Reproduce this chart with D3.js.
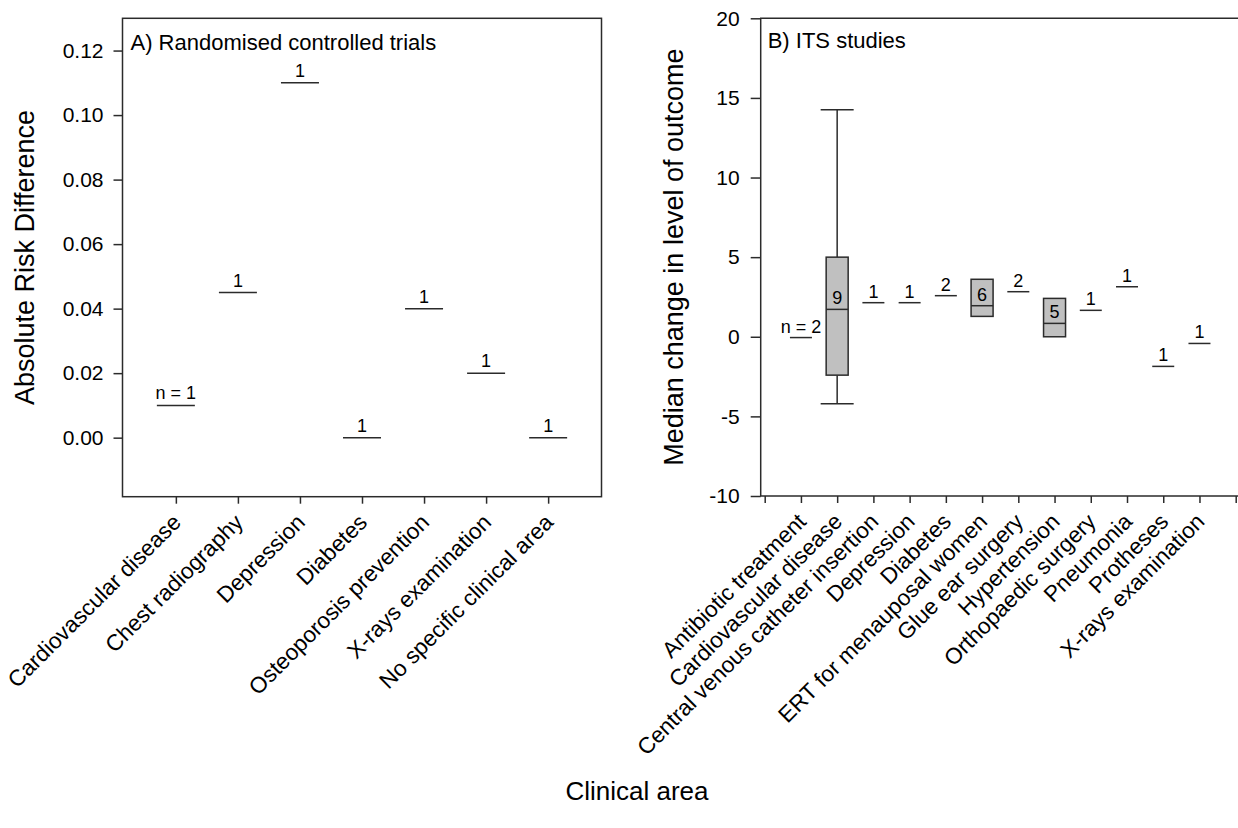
<!DOCTYPE html>
<html>
<head>
<meta charset="utf-8">
<script src="https://cdn.jsdelivr.net/npm/d3@7"></script>
<style>
  body { margin: 0; background: #fff; }
  svg { display: block; font-family: "Liberation Sans", Arial, sans-serif; }
</style>
</head>
<body>
<svg width="1238" height="828"></svg>
<script>
// A) randomised controlled trials
const rctCategories = ["Cardiovascular disease", "Chest radiography", "Depression", "Diabetes",
    "Osteoporosis prevention", "X-rays examination", "No specific clinical area"];
const rctValues = [0.01, 0.045, 0.11, 0.00, 0.04, 0.02, 0.00];
const rctCounts = [1, 1, 1, 1, 1, 1, 1];
const rctTicks = [0, 0.02, 0.04, 0.06, 0.08, 0.10, 0.12];

// B) ITS studies
const itsCategories = ["Antibiotic treatment", "Cardiovascular disease", "Central venous catheter insertion",
    "Depression", "Diabetes", "ERT for menauposal women", "Glue ear surgery", "Hypertension",
    "Orthopaedic surgery", "Pneumonia", "Protheses", "X-rays examination"];
const itsCounts = [2, 9, 1, 1, 2, 6, 2, 5, 1, 1, 1, 1];
const itsMedian = [-0.05, 1.72, 2.14, 2.14, 2.58, 1.95, 2.83, 0.84, 1.66, 3.14, -1.86, -0.42];
const itsQ1 = [null, -2.41, null, null, null, 1.28, null, 0.0, null, null, null, null];
const itsQ3 = [null, 5.0, null, null, null, 3.61, null, 2.41, null, null, null, null];
const itsLow = [null, -4.21, null, null, null, null, null, null, null, null, null, null];
const itsHigh = [null, 14.26, null, null, null, null, null, null, null, null, null, null];
const itsTicks = [-10, -5, 0, 5, 10, 15, 20];

const svg = d3.select("svg");
const ink = "#2b2b2b";

function styleAxis(g) {
    g.select(".domain").remove();
    g.selectAll(".tick line").attr("stroke", ink).attr("stroke-width", 1.5);
    g.selectAll(".tick text").attr("fill", "#000").style("font-size", "21px")
        .style("font-family", "'Liberation Sans', Arial, sans-serif");
}

function rotateLabels(g) {
    g.selectAll(".tick text")
        .attr("x", 0).attr("y", 0).attr("dy", 0)
        .attr("text-anchor", "end")
        .style("font-size", "22.5px")
        .attr("transform", "translate(6,27) rotate(-45)");
}

// ---------- panel A ----------
const A = {left: 122.5, right: 601.5, top: 18.3, bottom: 496.7};

const xA = d3.scalePoint()
    .domain(rctCategories)
    .range([A.left, A.right])
    .padding(0.86);

const yA = d3.scaleLinear()
    .domain([-0.0183, 0.13])
    .range([A.bottom, A.top]);

svg.append("rect")
    .attr("x", A.left).attr("y", A.top)
    .attr("width", A.right - A.left).attr("height", A.bottom - A.top)
    .attr("fill", "none").attr("stroke", ink).attr("stroke-width", 1.5);

svg.append("g")
    .attr("transform", `translate(${A.left},0)`)
    .call(d3.axisLeft(yA).tickValues(rctTicks).tickFormat(d3.format(".2f")).tickSize(9).tickPadding(10))
    .call(styleAxis);

svg.append("g")
    .attr("transform", `translate(0,${A.bottom})`)
    .call(d3.axisBottom(xA).tickSize(7))
    .call(styleAxis)
    .call(rotateLabels);

svg.append("g").selectAll("line")
    .data(rctCategories)
    .join("line")
    .attr("x1", d => xA(d) - 19)
    .attr("x2", d => xA(d) + 19)
    .attr("y1", (d, i) => yA(rctValues[i]))
    .attr("y2", (d, i) => yA(rctValues[i]))
    .attr("stroke", ink).attr("stroke-width", 1.5);

svg.append("g").selectAll("text")
    .data(rctCategories)
    .join("text")
    .attr("x", d => xA(d))
    .attr("y", (d, i) => yA(rctValues[i]) - 6)
    .attr("text-anchor", "middle")
    .style("font-size", "18px")
    .text((d, i) => i === 0 ? "n = " + rctCounts[i] : rctCounts[i]);

svg.append("text")
    .attr("x", A.left + 8).attr("y", 50)
    .style("font-size", "22px")
    .text("A) Randomised controlled trials");

svg.append("text")
    .attr("transform", `translate(34,${(A.top + A.bottom) / 2}) rotate(-90)`)
    .attr("text-anchor", "middle")
    .style("font-size", "27px")
    .text("Absolute Risk Difference");

// ---------- panel B ----------
const B = {left: 760.7, right: 1250, top: 18.3, bottom: 496};

const xB = d3.scaleLinear()
    .domain([0, 13])
    .range([764.7, 1235.7]);

const yB = d3.scaleLinear()
    .domain([-10, 20])
    .range([B.bottom, B.top]);

svg.append("path")
    .attr("d", `M${B.right},${B.top}H${B.left}V${B.bottom}H${B.right}`)
    .attr("fill", "none").attr("stroke", ink).attr("stroke-width", 1.5);

svg.append("g")
    .attr("transform", `translate(${B.left},0)`)
    .call(d3.axisLeft(yB).tickValues(itsTicks).tickFormat(d => String(d)).tickSize(10).tickPadding(11))
    .call(styleAxis);

svg.append("g")
    .attr("transform", `translate(0,${B.bottom})`)
    .call(d3.axisBottom(xB).tickValues(d3.range(0, 14)).tickFormat(i => itsCategories[i - 1] || "").tickSize(7))
    .call(styleAxis)
    .call(rotateLabels);

const its = itsCategories.map((c, i) => ({
    pos: i + 1, n: itsCounts[i], med: itsMedian[i],
    q1: itsQ1[i], q3: itsQ3[i], lo: itsLow[i], hi: itsHigh[i]
}));

const marks = svg.append("g");

// whiskers
const withWhiskers = its.filter(d => d.lo !== null);
marks.selectAll("line.whisker")
    .data(withWhiskers.flatMap(d => [[d.pos, d.hi, d.q3], [d.pos, d.q1, d.lo]]))
    .join("line")
    .attr("class", "whisker")
    .attr("x1", d => xB(d[0])).attr("x2", d => xB(d[0]))
    .attr("y1", d => yB(d[1])).attr("y2", d => yB(d[2]))
    .attr("stroke", ink).attr("stroke-width", 1.5);

marks.selectAll("line.cap")
    .data(withWhiskers.flatMap(d => [[d.pos, d.hi], [d.pos, d.lo]]))
    .join("line")
    .attr("class", "cap")
    .attr("x1", d => xB(d[0]) - 16.5).attr("x2", d => xB(d[0]) + 16.5)
    .attr("y1", d => yB(d[1])).attr("y2", d => yB(d[1]))
    .attr("stroke", ink).attr("stroke-width", 1.5);

// boxes
marks.selectAll("rect")
    .data(its.filter(d => d.q1 !== null))
    .join("rect")
    .attr("x", d => xB(d.pos) - 11)
    .attr("width", 22)
    .attr("y", d => yB(d.q3))
    .attr("height", d => yB(d.q1) - yB(d.q3))
    .attr("fill", "#c0c0c0").attr("stroke", ink).attr("stroke-width", 1.5);

// medians
marks.selectAll("line.median")
    .data(its)
    .join("line")
    .attr("class", "median")
    .attr("x1", d => xB(d.pos) - 11).attr("x2", d => xB(d.pos) + 11)
    .attr("y1", d => yB(d.med)).attr("y2", d => yB(d.med))
    .attr("stroke", ink).attr("stroke-width", 1.5);

marks.selectAll("text")
    .data(its)
    .join("text")
    .attr("x", d => xB(d.pos))
    .attr("y", d => yB(d.med) - 5)
    .attr("text-anchor", "middle")
    .style("font-size", "18px")
    .text((d, i) => i === 0 ? "n = " + d.n : d.n);

svg.append("text")
    .attr("x", B.left + 7).attr("y", 48)
    .style("font-size", "22px")
    .text("B) ITS studies");

svg.append("text")
    .attr("transform", `translate(683,${(B.top + B.bottom) / 2}) rotate(-90)`)
    .attr("text-anchor", "middle")
    .style("font-size", "27px")
    .text("Median change in level of outcome");

svg.append("text")
    .attr("x", 637).attr("y", 800)
    .attr("text-anchor", "middle")
    .style("font-size", "26px")
    .text("Clinical area");
</script>
</body>
</html>
